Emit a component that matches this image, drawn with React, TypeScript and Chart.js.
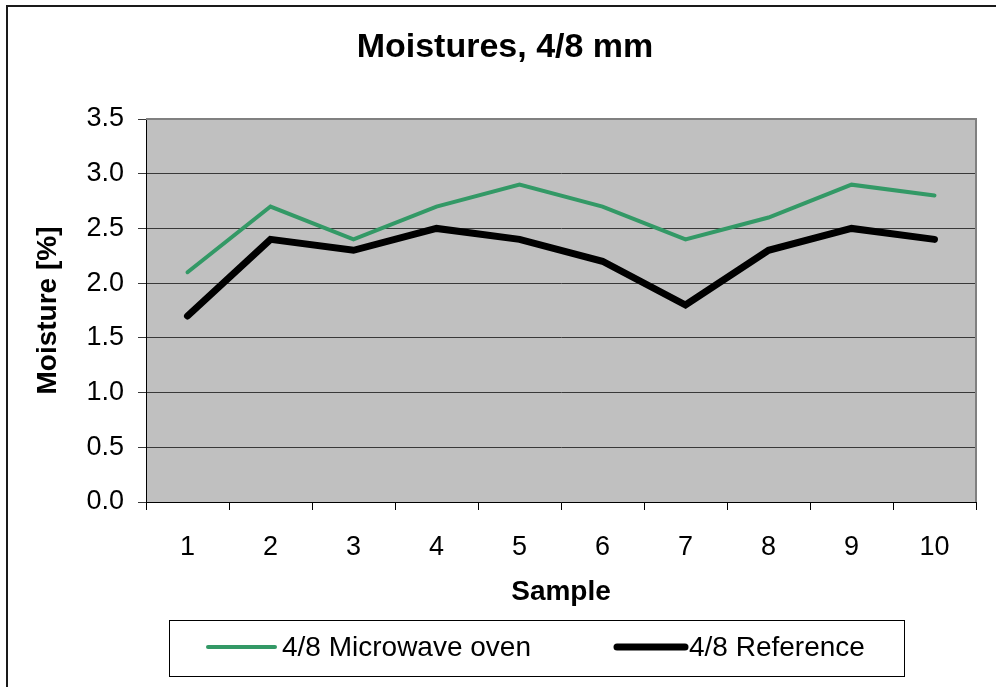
import React, { useEffect, useRef } from "react";
import { Chart, registerables } from "chart.js";

Chart.register(...registerables);

const categories = ["1", "2", "3", "4", "5", "6", "7", "8", "9", "10"];
const microwaveValues = [2.1, 2.7, 2.4, 2.7, 2.9, 2.7, 2.4, 2.6, 2.9, 2.8];
const referenceValues = [1.7, 2.4, 2.3, 2.5, 2.4, 2.2, 1.8, 2.3, 2.5, 2.4];
const seriesLabels = ["4/8 Microwave oven", "4/8 Reference"];
const chartTitle = "Moistures, 4/8 mm";
const xTitle = "Sample";
const yTitle = "Moisture [%]";
const yMin = 0;
const yMax = 3.5;
const yStep = 0.5;

const FONT = "'Liberation Sans', Arial, sans-serif";

const framePlugin = {
  id: "frameAndPlot",
  beforeDraw(chart: any) {
    const { ctx, chartArea } = chart;
    ctx.save();
    ctx.fillStyle = "#ffffff";
    ctx.fillRect(0, 0, chart.width, chart.height);
    ctx.fillStyle = "#C0C0C0";
    ctx.fillRect(chartArea.left, chartArea.top, chartArea.right - chartArea.left, chartArea.bottom - chartArea.top);
    ctx.strokeStyle = "#1a1a1a";
    ctx.lineWidth = 2;
    ctx.strokeRect(7, 6, 1200, 1200);
    ctx.restore();
  },
  beforeDatasetsDraw(chart: any) {
    const { ctx, chartArea } = chart;
    ctx.save();
    ctx.strokeStyle = "#808080";
    ctx.lineWidth = 2;
    ctx.beginPath();
    ctx.moveTo(chartArea.left, chartArea.top);
    ctx.lineTo(chartArea.right, chartArea.top);
    ctx.lineTo(chartArea.right, chartArea.bottom);
    ctx.stroke();
    ctx.restore();
  },
  afterDraw(chart: any) {
    const { ctx } = chart;
    ctx.save();
    ctx.strokeStyle = "#000000";
    ctx.lineWidth = 1;
    ctx.strokeRect(169.5, 620.5, 735, 56);
    const items = [
      { x0: 208, x1: 275, tx: 282 },
      { x0: 617, x1: 685, tx: 689 },
    ];
    const y = 647;
    chart.data.datasets.forEach((ds: any, i: number) => {
      const it = items[i];
      ctx.strokeStyle = ds.borderColor;
      ctx.lineWidth = ds.borderWidth;
      ctx.lineCap = "round";
      ctx.beginPath();
      ctx.moveTo(it.x0, y);
      ctx.lineTo(it.x1, y);
      ctx.stroke();
      ctx.fillStyle = "#000000";
      ctx.font = `28px ${FONT}`;
      ctx.textBaseline = "middle";
      ctx.textAlign = "left";
      ctx.fillText(ds.label, it.tx, y + 1);
    });
    ctx.restore();
  },
};

export default function App() {
  const ref = useRef<HTMLCanvasElement | null>(null);
  useEffect(() => {
    if (!ref.current) return;
    const chart = new Chart(ref.current, {
      type: "line",
      data: {
        labels: categories,
        datasets: [
          {
            label: seriesLabels[0],
            data: microwaveValues,
            borderColor: "#339966",
            backgroundColor: "#339966",
            borderWidth: 4,
            pointRadius: 0,
            borderCapStyle: "round",
            tension: 0,
          },
          {
            label: seriesLabels[1],
            data: referenceValues,
            borderColor: "#000000",
            backgroundColor: "#000000",
            borderWidth: 7,
            pointRadius: 0,
            borderCapStyle: "round",
            tension: 0,
          },
        ],
      },
      options: {
        responsive: false,
        animation: false,
        devicePixelRatio: 1,
        layout: { padding: { left: 34, right: 20, top: 0, bottom: 0 } },
        plugins: {
          legend: { display: false },
          tooltip: { enabled: false },
          title: {
            display: true,
            text: chartTitle,
            color: "#000000",
            font: { family: FONT, size: 34, weight: "bold" },
            padding: { top: 27.6, bottom: 50.6 },
          },
        },
        scales: {
          x: {
            offset: true,
            grid: {
              display: true,
              offset: true,
              drawOnChartArea: false,
              drawTicks: true,
              tickLength: 8,
              color: "#000000",
            },
            border: { display: true, color: "#000000", width: 1 },
            ticks: {
              color: "#000000",
              font: { family: FONT, size: 27 },
              padding: 21,
              maxRotation: 0,
              autoSkip: false,
            },
            title: {
              display: true,
              text: xTitle,
              color: "#000000",
              font: { family: FONT, size: 28, weight: "bold" },
              padding: { top: 0, bottom: 77.5 },
            },
            afterFit(scale: any) {
              scale.height = 185;
            },
          },
          y: {
            min: yMin,
            max: yMax,
            grid: {
              color: "#383838",
              tickLength: 8,
              drawTicks: true,
            },
            border: { display: true, color: "#000000", width: 1 },
            ticks: {
              stepSize: yStep,
              color: "#000000",
              font: { family: FONT, size: 27 },
              padding: 14,
              callback: (v: any) => Number(v).toFixed(1),
            },
            title: {
              display: true,
              text: yTitle,
              color: "#000000",
              font: { family: FONT, size: 28, weight: "bold", lineHeight: 1 },
              padding: { top: 0, bottom: 0 },
            },
            afterFit(scale: any) {
              scale.width = 112;
            },
          },
        },
      },
      plugins: [framePlugin],
    });
    return () => chart.destroy();
  }, []);
  return (
    <div style={{ position: "absolute", left: 0, top: 0, width: 996, height: 687 }}>
      <canvas ref={ref} width={996} height={687} style={{ width: 996, height: 687, display: "block" }} />
    </div>
  );
}
